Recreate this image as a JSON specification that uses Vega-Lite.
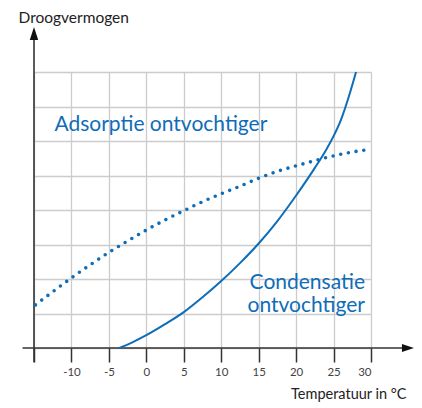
{
  "$schema": "https://vega.github.io/schema/vega-lite/v6.json",
  "autosize": {"type": "none"},
  "padding": {"left": 34, "top": 72, "right": 51, "bottom": 60},
  "width": 337,
  "height": 276,
  "background": "white",
  "config": {
    "view": {"stroke": null},
    "font": "Lato",
    "axis": {"labelFont": "Lato", "titleFont": "Lato"}
  },
  "datasets": {
    "condensatie": [
      {"x": -3.6, "y": 0}, {"x": -2, "y": 0.15}, {"x": 0, "y": 0.37}, {"x": 2.5, "y": 0.69},
      {"x": 5, "y": 1.04}, {"x": 7.5, "y": 1.47}, {"x": 10, "y": 1.94}, {"x": 12.5, "y": 2.46},
      {"x": 15, "y": 3.03}, {"x": 17.5, "y": 3.68}, {"x": 20, "y": 4.42}, {"x": 22.5, "y": 5.22},
      {"x": 24, "y": 5.74}, {"x": 25, "y": 6.14}, {"x": 26, "y": 6.62}, {"x": 27, "y": 7.26}, {"x": 28, "y": 8.0}
    ],
    "adsorptie": [
      {"x": -14.8, "y": 1.25}, {"x": -12.5, "y": 1.63}, {"x": -10, "y": 2.03}, {"x": -7.5, "y": 2.41},
      {"x": -5, "y": 2.77}, {"x": -2.5, "y": 3.1}, {"x": 0, "y": 3.42}, {"x": 2.5, "y": 3.71},
      {"x": 5, "y": 3.98}, {"x": 7.5, "y": 4.24}, {"x": 10, "y": 4.47}, {"x": 12.5, "y": 4.69},
      {"x": 15, "y": 4.92}, {"x": 17.5, "y": 5.12}, {"x": 20, "y": 5.28}, {"x": 22.5, "y": 5.43},
      {"x": 25, "y": 5.57}, {"x": 27.5, "y": 5.68}, {"x": 30, "y": 5.76}
    ],
    "assen": [
      {"x": -16.53, "y": 0, "x2": 34.3, "y2": 0},
      {"x": -15, "y": -0.41, "x2": -15, "y2": 8.95}
    ],
    "pijlRechts": [{"x": 34.93, "y": 0}],
    "pijlBoven": [{"x": -15, "y": 9.116}],
    "tekstLinks": [{"x": -12.27, "y": 6.29, "label": "Adsorptie ontvochtiger"}],
    "tekstRechts": [
      {"x": 29.2, "y": 1.7, "label": "Condensatie"},
      {"x": 29.2, "y": 1.04, "label": "ontvochtiger"}
    ]
  },
  "encoding": {
    "x": {
      "field": "x", "type": "quantitative",
      "scale": {"domain": [-15, 30], "nice": false, "zero": false},
      "axis": {
        "values": [-15, -10, -5, 0, 5, 10, 15, 20, 25, 30],
        "grid": true, "gridColor": "#cccccc", "gridWidth": 1.3,
        "domain": false,
        "tickSize": 14, "tickColor": "#333333", "tickWidth": 1.5,
        "labelExpr": "datum.value == -15 ? '' : toString(datum.value)",
        "labelFontSize": 11.5, "labelColor": "#444444", "labelPadding": 4,
        "title": "Temperatuur in °C", "titleX": 372, "titleY": 50,
        "titleAlign": "right", "titleBaseline": "alphabetic",
        "titleFontWeight": "normal", "titleFontSize": 14.5, "titleColor": "#222222"
      }
    },
    "y": {
      "field": "y", "type": "quantitative",
      "scale": {"domain": [0, 8], "nice": false, "zero": false},
      "axis": {
        "values": [0, 1, 2, 3, 4, 5, 6, 7, 8],
        "grid": true, "gridColor": "#cccccc", "gridWidth": 1.3,
        "domain": false, "ticks": false, "labels": false,
        "title": "Droogvermogen", "titleAngle": 0, "titleX": -16, "titleY": -50,
        "titleAlign": "left", "titleBaseline": "alphabetic",
        "titleFontWeight": "normal", "titleFontSize": 15.5, "titleColor": "#222222"
      }
    }
  },
  "layer": [
    {
      "data": {"name": "assen"},
      "mark": {"type": "rule", "color": "#333333", "strokeWidth": 1.6},
      "encoding": {"x2": {"field": "x2"}, "y2": {"field": "y2"}}
    },
    {
      "data": {"name": "pijlRechts"},
      "mark": {"type": "point", "shape": "M1,0L-1,-0.67L-1,0.67Z", "size": 144, "filled": true, "color": "#111111", "opacity": 1}
    },
    {
      "data": {"name": "pijlBoven"},
      "mark": {"type": "point", "shape": "M0,-1L-0.65,1L0.65,1Z", "size": 169, "filled": true, "color": "#111111", "opacity": 1}
    },
    {
      "data": {"name": "condensatie"},
      "mark": {"type": "line", "color": "#0f6db8", "strokeWidth": 2, "interpolate": "monotone"}
    },
    {
      "data": {"name": "adsorptie"},
      "mark": {"type": "line", "color": "#0f6db8", "strokeWidth": 3.6, "strokeDash": [0, 7.8], "strokeCap": "round", "interpolate": "monotone"}
    },
    {
      "data": {"name": "tekstLinks"},
      "mark": {"type": "text", "align": "left", "baseline": "alphabetic", "fontSize": 21, "color": "#0f6db8"},
      "encoding": {"text": {"field": "label"}}
    },
    {
      "data": {"name": "tekstRechts"},
      "mark": {"type": "text", "align": "right", "baseline": "alphabetic", "fontSize": 21, "color": "#0f6db8"},
      "encoding": {"text": {"field": "label"}}
    }
  ]
}
